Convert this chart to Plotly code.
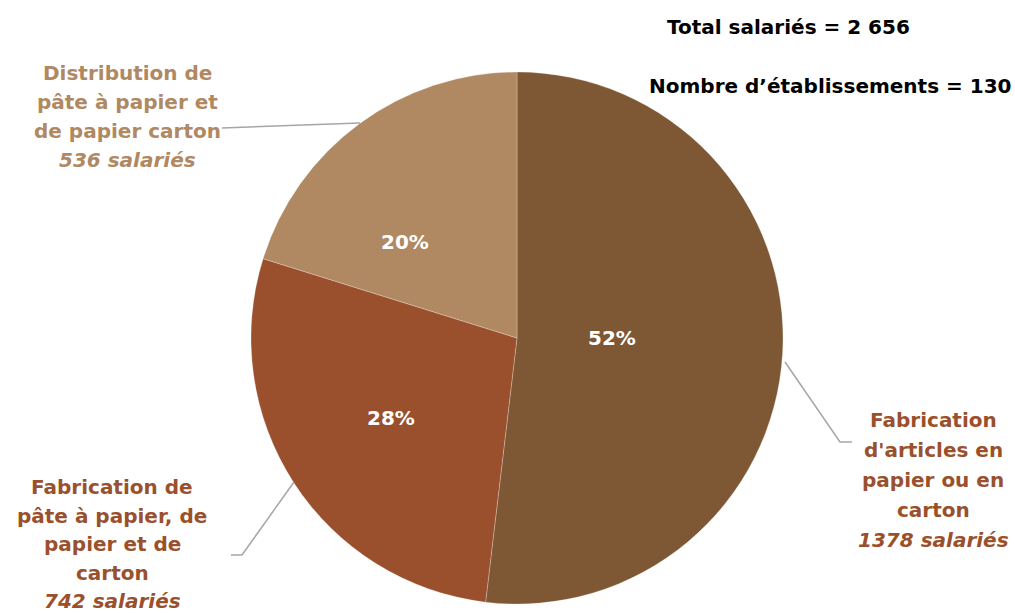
import math
import plotly.graph_objects as go

W, H = 1015, 614

categories = [
    "Fabrication d'articles en papier ou en carton",
    "Fabrication de pâte à papier, de papier et de carton",
    "Distribution de pâte à papier et de papier carton",
]
salaries = [1378, 742, 536]
slice_colors = ["#7E5734", "#9A502C", "#B08862"]
label_colors = ["#9A502C", "#9A502C", "#B08862"]
label_lines = [
    ["Fabrication", "d'articles en", "papier ou en", "carton"],
    ["Fabrication de", "pâte à papier, de", "papier et de", "carton"],
    ["Distribution de", "pâte à papier et", "de papier carton"],
]
total_salaries = "2 656"
nb_etablissements = 130

FONT = "DejaVu Sans"


def px(x):
    return x / W


def py(y):
    return 1 - y / H


cx, cy, r = 517, 338, 266

fig = go.Figure(
    go.Pie(
        labels=categories,
        values=salaries,
        sort=False,
        direction="clockwise",
        rotation=0,
        marker=dict(colors=slice_colors, line=dict(color="rgba(255,255,255,0.5)", width=0.5)),
        textinfo="none",
        showlegend=False,
        hoverinfo="label+value+percent",
        domain=dict(x=[px(cx - r), px(cx + r)], y=[py(cy + r), py(cy - r)]),
    )
)

annotations = []

# percentage labels placed near each slice's bisector
total = sum(salaries)
radial_frac = [0.357, 0.56, 0.555]
angle_shift = [-3.4, 0.6, -13.0]
start = 0.0
for i, v in enumerate(salaries):
    frac = v / total
    mid = math.radians((start + frac / 2) * 360 + angle_shift[i])
    start += frac
    d = radial_frac[i] * r
    tx = cx + d * math.sin(mid)
    ty = cy - d * math.cos(mid)
    annotations.append(dict(
        x=px(tx), y=py(ty), xref="paper", yref="paper",
        text=f"<b>{round(frac * 100)}%</b>", showarrow=False,
        xanchor="center", yanchor="middle",
        font=dict(family=FONT, size=20, color="white"),
    ))

# label blocks: (center x, first line y, spacing)
label_pos = [(933, 420, 30), (112, 487, 28.5), (127, 73, 29)]
for i, (lx, ly, sp) in enumerate(label_pos):
    lines = label_lines[i]
    for j, t in enumerate(lines):
        annotations.append(dict(
            x=px(lx), y=py(ly + j * sp), xref="paper", yref="paper",
            text=f"<b>{t}</b>", showarrow=False, xanchor="center", yanchor="middle",
            font=dict(family=FONT, size=20, color=label_colors[i]),
        ))
    annotations.append(dict(
        x=px(lx), y=py(ly + len(lines) * sp), xref="paper", yref="paper",
        text=f"<b><i>{salaries[i]} salariés</i></b>", showarrow=False,
        xanchor="center", yanchor="middle",
        font=dict(family=FONT, size=20, color=label_colors[i]),
    ))

annotations.append(dict(
    x=px(788), y=py(27), xref="paper", yref="paper",
    text=f"<b>Total salariés = {total_salaries}</b>", showarrow=False,
    xanchor="center", yanchor="middle", font=dict(family=FONT, size=20, color="black"),
))
annotations.append(dict(
    x=px(830), y=py(86), xref="paper", yref="paper",
    text=f"<b>Nombre d’établissements = {nb_etablissements}</b>", showarrow=False,
    xanchor="center", yanchor="middle", font=dict(family=FONT, size=20, color="black"),
))


def path(points):
    return "M " + " L ".join(f"{px(x)} {py(y)}" for x, y in points)


leader = [
    [(785, 362), (840, 442), (852, 442)],
    [(294, 482), (242, 555), (231, 555)],
    [(360, 123), (222, 128)],
]
shapes = [
    dict(type="path", path=path(p), xref="paper", yref="paper",
         line=dict(color="#A6A6A6", width=1.5))
    for p in leader
]

fig.update_layout(
    width=W, height=H,
    margin=dict(l=0, r=0, t=0, b=0),
    paper_bgcolor="white", plot_bgcolor="white",
    annotations=annotations, shapes=shapes,
)

fig.write_html("out.html", config={"displayModeBar": False},
               post_script="document.body.style.margin='0';")
